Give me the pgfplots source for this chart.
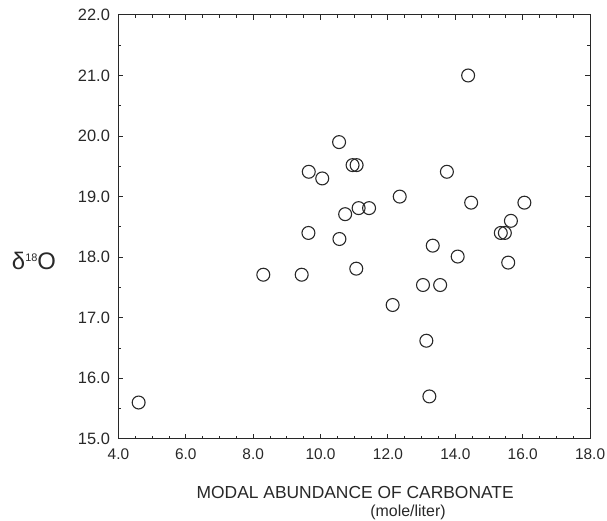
\documentclass[border=0pt]{standalone}
\usepackage{pgfplots}
\pgfplotsset{compat=1.18}
\usepackage{fontspec}
\setmainfont{Liberation Sans}
\definecolor{ink}{RGB}{40,40,40}

\pgfplotstableread{
x y
4.60 15.60
8.30 17.71
9.44 17.71
9.64 18.40
9.65 19.41
10.05 19.30
10.55 19.90
10.56 18.30
10.73 18.71
10.95 19.52
11.07 19.52
11.06 17.81
11.13 18.81
11.44 18.81
12.14 17.21
12.35 19.00
13.04 17.54
13.14 16.62
13.23 15.70
13.33 18.19
13.55 17.54
13.75 19.41
14.07 18.01
14.38 21.00
14.47 18.90
15.35 18.40
15.47 18.40
15.57 17.91
15.65 18.60
16.05 18.90
}\carbdata

\begin{document}
\begin{tikzpicture}[x=1pt,y=1pt]
\path[use as bounding box] (-119,-82) rectangle (491,441);
\begin{axis}[
  scale only axis, width=474pt, height=426pt,
  xmin=4, xmax=18, ymin=15, ymax=22,
  xtick={4,6,...,18}, ytick={15,16,...,22},
  minor x tick num=3, minor y tick num=1,
  tick align=inside,
  major tick length=5pt, minor tick length=3pt,
  axis line style={ink, line width=1.1pt},
  every tick/.style={ink, line width=0.9pt},
  xticklabel={\pgfmathprintnumber[fixed,fixed zerofill,precision=1]{\tick}},
  yticklabel={\pgfmathprintnumber[fixed,fixed zerofill,precision=1]{\tick}},
  /pgf/number format/assume math mode=true,
  tick label style={text=ink},
  yticklabel style={font=\fontsize{16.5}{19}\selectfont, xshift=-5pt},
  xticklabel style={font=\fontsize{15.5}{18}\selectfont, yshift=-6pt},
  clip=false]
\addplot[only marks, mark=o, mark size=6.5pt, mark options={ink, line width=1.1pt}]
  table[x=x, y=y] {\carbdata};
\node[text=ink, font=\fontsize{17.5}{20}\selectfont] at (axis description cs:0.502,-0.127)
  {MODAL ABUNDANCE OF CARBONATE};
\node[text=ink, font=\fontsize{16}{19}\selectfont] at (axis description cs:0.614,-0.174)
  {(mole/liter)};
\node[text=ink, font=\fontsize{24}{28}\selectfont] at (axis description cs:-0.179,0.42)
  {δ\raisebox{8pt}{\fontsize{11}{13}\selectfont 18}O};
\end{axis}
\end{tikzpicture}
\end{document}
